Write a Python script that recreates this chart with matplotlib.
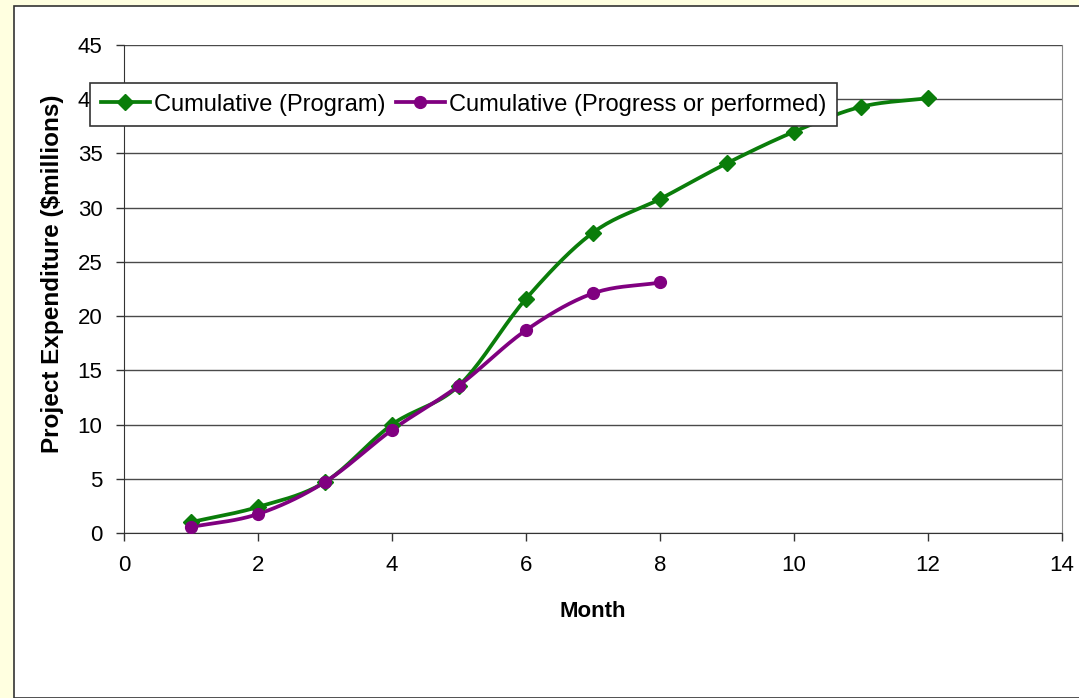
import numpy as np
import matplotlib
matplotlib.use("Agg")
import matplotlib.pyplot as plt
from matplotlib.patches import Rectangle

months_program = [1, 2, 3, 4, 5, 6, 7, 8, 9, 10, 11, 12]
cum_program = [1.0, 2.4, 4.7, 10.0, 13.6, 21.6, 27.7, 30.8, 34.1, 37.0, 39.3, 40.1]
months_progress = [1, 2, 3, 4, 5, 6, 7, 8]
cum_progress = [0.55, 1.75, 4.7, 9.5, 13.6, 18.7, 22.1, 23.1]

label_program = "Cumulative (Program)"
label_progress = "Cumulative (Progress or performed)"
xlabel = "Month"
ylabel = "Project Expenditure ($millions)"


def smooth(x, y, n=20):
    # Catmull-Rom curve through the given points (display smoothing only)
    x = np.asarray(x, float); y = np.asarray(y, float)
    px = np.concatenate([[2 * x[0] - x[1]], x, [2 * x[-1] - x[-2]]])
    py = np.concatenate([[2 * y[0] - y[1]], y, [2 * y[-1] - y[-2]]])
    xs, ys = [], []
    t = np.linspace(0, 1, n, endpoint=False)
    for i in range(1, len(px) - 2):
        p0, p1, p2, p3 = [np.array([px[j], py[j]]) for j in range(i - 1, i + 3)]
        for tt in t:
            pt = 0.5 * ((2 * p1) + (-p0 + p2) * tt + (2 * p0 - 5 * p1 + 4 * p2 - p3) * tt ** 2
                        + (-p0 + 3 * p1 - 3 * p2 + p3) * tt ** 3)
            xs.append(pt[0]); ys.append(pt[1])
    xs.append(x[-1]); ys.append(y[-1])
    return np.array(xs), np.array(ys)


plt.rcParams['font.family'] = ['Liberation Sans', 'DejaVu Sans']

fig = plt.figure(figsize=(10.79, 6.98), dpi=100)
fig.patch.set_facecolor('#FFFFE0')
W, H = 1079, 698
panel = Rectangle((14 / W, 0), 1.0, 1 - 6 / H, transform=fig.transFigure,
                  facecolor='white', edgecolor='#333333', linewidth=1.2, zorder=-5)
fig.patches.append(panel)

ax = fig.add_axes([124 / W, 1 - 533 / H, (1062 - 124) / W, (533 - 45) / H])
ax.set_zorder(2)
ax.set_facecolor('white')
ax.set_xlim(0, 14)
ax.set_ylim(0, 45)
ax.set_xticks(range(0, 15, 2))
ax.set_yticks(range(0, 46, 5))
ax.yaxis.grid(True, color='#4a4a4a', linewidth=1.0)
ax.set_axisbelow(True)
ax.spines['top'].set_visible(False)
ax.spines['right'].set_color('#888888')
ax.spines['left'].set_color('#333333')
ax.spines['bottom'].set_color('#333333')
ax.tick_params(direction='out', length=6, width=1, colors='#333333', labelcolor='black',
               labelsize=16, pad=9.5)

green = '#0A7D0A'
purple = '#800080'
sx, sy = smooth(months_program, cum_program)
ax.plot(sx, sy, color=green, lw=2.7, zorder=3)
ax.plot(months_program, cum_program, ls='none', marker='D', ms=8, color=green, zorder=4)
px_, py_ = smooth(months_progress, cum_progress)
ax.plot(px_, py_, color=purple, lw=2.7, zorder=3)
ax.plot(months_progress, cum_progress, ls='none', marker='o', ms=8.5, color=purple, zorder=4)

h1, = ax.plot([], [], color=green, lw=2.7, marker='D', ms=8, label=label_program)
h2, = ax.plot([], [], color=purple, lw=2.7, marker='o', ms=8.5, label=label_progress)
leg = fig.legend(handles=[h1, h2], loc='upper left', bbox_to_anchor=(90 / W, 1 - 83 / H),
                 ncol=2, frameon=True, fancybox=False, fontsize=17, handlelength=2.1,
                 columnspacing=0.42, handletextpad=0.17, borderpad=0.45, borderaxespad=0,
                 framealpha=1)
leg.get_frame().set_edgecolor('#333333')
leg.get_frame().set_linewidth(1.2)
leg.set_zorder(10)

ax.set_xlabel(xlabel, fontsize=16, fontweight='bold', labelpad=18.5)
ax.set_ylabel(ylabel, fontsize=17.5, fontweight='bold', va='center')
ax.yaxis.set_label_coords((53 - 124) / (1062 - 124), (533 - 273.5) / (533 - 45))

fig.savefig('out.png', dpi=100, facecolor=fig.get_facecolor())
